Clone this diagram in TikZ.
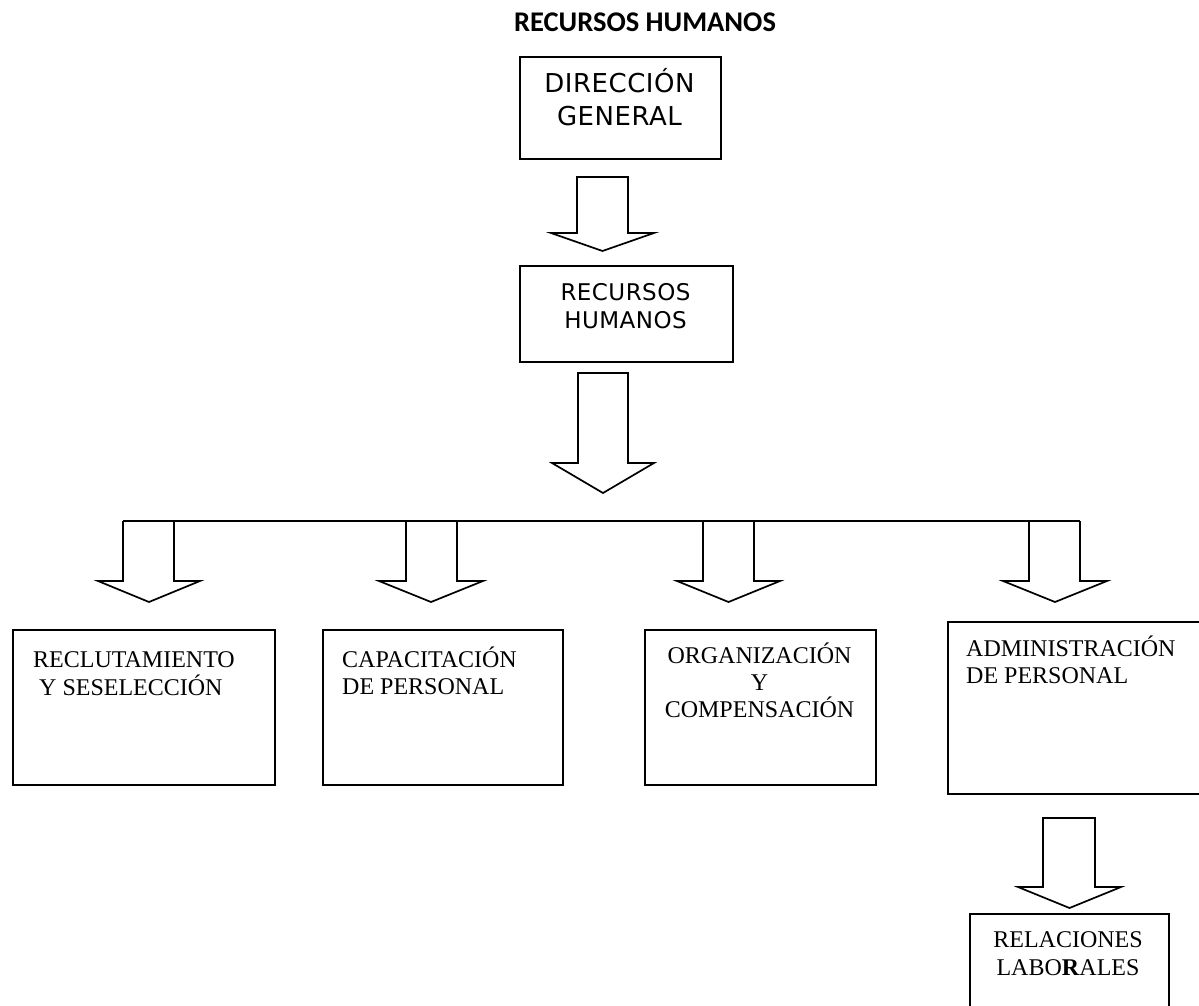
\documentclass[tikz,border=0pt]{standalone}
\usepackage{fontspec}
\setmainfont{Liberation Serif}
\newfontfamily\vsansfont[LetterSpace=2]{DejaVu Sans}
\newfontfamily\titlefont{Carlito}
\tikzset{
  line/.style={line width=1.7pt, line join=miter, black},
  boxnode/.style={draw, line width=1.7pt, rectangle, inner sep=0pt, anchor=north west},
  serif/.style={inner sep=0pt, font=\fontsize{24}{27}\selectfont},
  sanslabel/.style={inner sep=0pt, anchor=base, font=\vsansfont},
}
% block arrow: shaft left, shaft right, top, shoulder, head left, head right, tip y
\newcommand\blockarrow[7]{%
  \draw[line] (#1,#4) -- (#1,#3) -- (#2,#3) -- (#2,#4) -- (#6,#4) -- ({(#5+#6)/2},#7) -- (#5,#4) -- cycle;}
\newcommand\openarrow[7]{%
  \draw[line] (#1,#3) -- (#1,#4) -- (#5,#4) -- ({(#5+#6)/2},#7) -- (#6,#4) -- (#2,#4) -- (#2,#3);}
\begin{document}
\begin{tikzpicture}[x=1pt,y=-1pt]
\useasboundingbox (0,0) rectangle (1199,1006);

% title
\node[inner sep=0pt, anchor=base, font=\titlefont\bfseries\fontsize{28.5}{30}\selectfont] (title) at (645,32) {RECURSOS HUMANOS};

% Dirección general
\node[boxnode, minimum width=201pt, minimum height=102pt] (dg) at (519,56) {};
\node[sanslabel, font=\vsansfont\fontsize{26}{30}\selectfont] (dg1) at (619.5,93) {DIRECCIÓN};
\node[sanslabel, font=\vsansfont\fontsize{26}{30}\selectfont] (dg2) at (619.5,126) {GENERAL};

\blockarrow{577}{628}{177}{233}{551}{654}{251}

% Recursos humanos
\node[boxnode, minimum width=213pt, minimum height=96pt] (rh) at (519,265) {};
\node[sanslabel, font=\vsansfont\fontsize{23}{28}\selectfont] (rh1) at (625.5,300) {RECURSOS};
\node[sanslabel, font=\vsansfont\fontsize{23}{28}\selectfont] (rh2) at (625.5,328) {HUMANOS};

\blockarrow{578}{628}{373}{463}{552}{654}{493}

% horizontal distribution line
\coordinate (hl) at (123,521);
\coordinate (hr) at (1080,521);
\draw[line] (hl) -- (hr);
\openarrow{123}{174}{521}{581}{98}{200}{602}
\openarrow{406}{457}{521}{581}{379}{483}{602}
\openarrow{703}{754}{521}{581}{677}{780}{602}
\openarrow{1029}{1080}{521}{581}{1003}{1107}{602}

% lower boxes
\node[boxnode, minimum width=262pt, minimum height=155pt] (b1) at (12,629) {};
\node[serif, anchor=base west] (b1a) at (33,667) {RECLUTAMIENTO};
\node[serif, anchor=base west] (b1b) at (39,695) {Y SESELECCIÓN};

\node[boxnode, minimum width=240pt, minimum height=155pt] (b2) at (322,629) {};
\node[serif, anchor=base west] (b2a) at (342,667) {CAPACITACIÓN};
\node[serif, anchor=base west] (b2b) at (342,694) {DE PERSONAL};

\node[boxnode, minimum width=231pt, minimum height=155pt] (b3) at (644,629) {};
\node[serif, anchor=base] (b3a) at (759.5,663) {ORGANIZACIÓN};
\node[serif, anchor=base] (b3b) at (759.5,690) {Y};
\node[serif, anchor=base] (b3c) at (759.5,717) {COMPENSACIÓN};

\node[boxnode, minimum width=280pt, minimum height=172pt] (b4) at (947,621) {};
\node[serif, anchor=base west] (b4a) at (966,656) {ADMINISTRACIÓN};
\node[serif, anchor=base west] (b4b) at (966,683) {DE PERSONAL};

\blockarrow{1043}{1095}{818}{887}{1018}{1121}{908}

% Relaciones laborales (box runs past the lower edge)
\node[boxnode, draw=none, minimum width=197pt, minimum height=100pt] (rl) at (970,914) {};
\draw[line] ([yshift=-20pt]rl.south west) -- (rl.north west) -- (rl.north east) -- ([yshift=-20pt]rl.south east);
\node[serif, anchor=base] (rl1) at (1068,947) {RELACIONES};
\node[serif, anchor=base] (rl2) at (1068,975) {LABO\textbf{R}ALES};
\end{tikzpicture}
\end{document}
